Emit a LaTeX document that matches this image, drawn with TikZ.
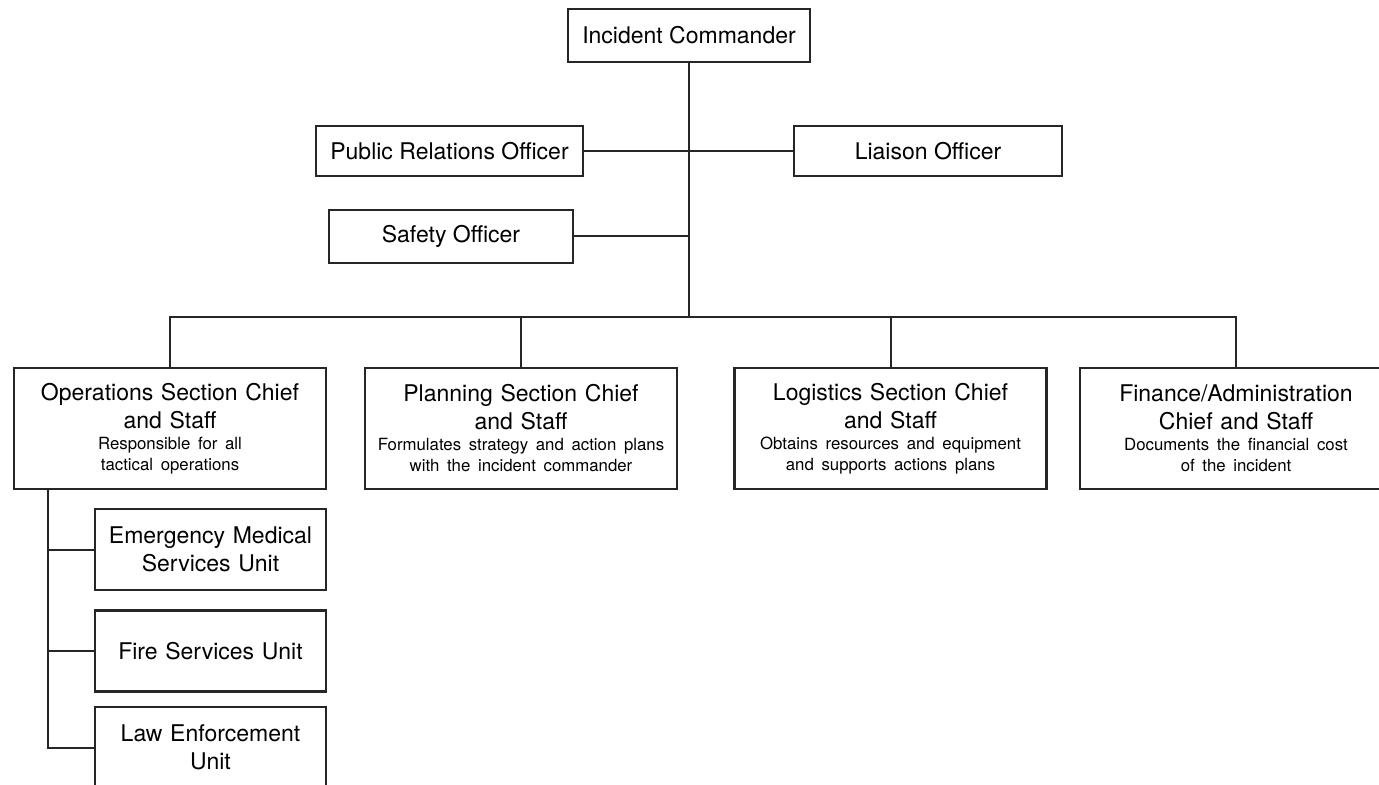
\documentclass[tikz,border=0pt]{standalone}
\usepackage{fontspec}
\setmainfont{TeX Gyre Heros}
\usepackage{tikz}
\usetikzlibrary{calc}
\colorlet{ink}{black!85}
\newcommand\remark[1]{{\fontsize{8.4}{10.5}\selectfont #1\par}}
\tikzstyle{post}=[draw=ink,line width=1.2pt,fill=white,inner sep=0pt,align=center,font=\fontsize{11.5}{14}\selectfont]
\tikzstyle{officer}=[post,minimum height=25pt]
\tikzstyle{section}=[post,minimum width=156pt,minimum height=60.5pt,text width=150pt]
\tikzstyle{unit}=[post,minimum width=115.5pt,minimum height=40.5pt,text width=110pt]
\tikzstyle{link}=[draw=ink,line width=1pt]
\begin{document}
\begin{tikzpicture}[x=0.5pt,y=-0.5pt]
	\useasboundingbox (0,0) rectangle (1379,785);
	% command staff
	\node[post,minimum width=121pt,minimum height=26.5pt] (ic) at (689,35.5) {Incident Commander};
	\node[officer,minimum width=133.5pt] (pr) at (449.5,151) {Public Relations Officer};
	\node[officer,minimum width=134pt] (liaison) at (928,151) {Liaison Officer};
	\node[officer,minimum width=122pt,minimum height=26.5pt] (safety) at (451,236.5) {Safety Officer};
	% general staff
	\node[section] (ops) at (170,428.5) {Operations Section Chief\\and Staff\\\remark{Responsible for all\\tactical operations}};
	\node[section] (plan) at (521,428.5) {Planning Section Chief\\and Staff\\\remark{Formulates strategy and action plans\\with the incident commander}};
	\node[section] (log) at (890.5,428.5) {Logistics Section Chief\\and Staff\\\remark{Obtains resources and equipment\\and supports actions plans}};
	\node[section] (fin) at (1236,428.5) {Finance/Administration\\Chief and Staff\\\remark{Documents the financial cost\\of the incident}};
	% units
	\node[unit] (ems) at (210.5,549.5) {Emergency Medical\\Services Unit};
	\node[unit] (fire) at (210.5,651) {Fire Services Unit};
	\node[unit] (law) at (210.5,747.5) {Law Enforcement\\Unit};
	\coordinate (bus) at (689,317);
	\coordinate (spine) at ($(ops.south west)+(35,0)$);
	\draw[link] (ic) -- (ic.south |- bus);
	\draw[link] (pr) -- (liaison);
	\draw[link] (safety) -- (safety -| ic);
	\draw[link] (ops.north) |- (bus) -| (fin.north);
	\draw[link] (plan.north) -- (plan.north |- bus);
	\draw[link] (log.north) -- (log.north |- bus);
	\draw[link] (spine) |- (law.west);
	\foreach \u in {ems,fire}
		\draw[link] (spine |- \u.west) -- (\u.west);
\end{tikzpicture}
\end{document}
